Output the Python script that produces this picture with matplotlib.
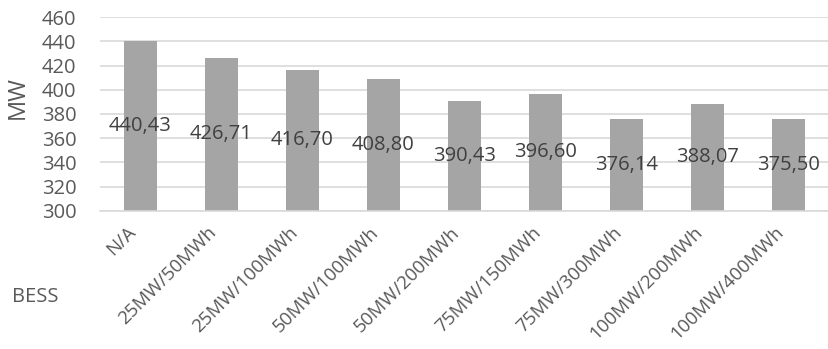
import matplotlib.pyplot as plt
import matplotlib.transforms as mtransforms

# Data
categories = ['N/A', '25MW/50MWh', '25MW/100MWh', '50MW/100MWh', '50MW/200MWh',
              '75MW/150MWh', '75MW/300MWh', '100MW/200MWh', '100MW/400MWh']
values = [440.43, 426.71, 416.70, 408.80, 390.43, 396.60, 376.14, 388.07, 375.50]
yticks = [300, 320, 340, 360, 380, 400, 420, 440, 460]

plt.rcParams['font.family'] = ['Open Sans', 'DejaVu Sans']

fig = plt.figure(figsize=(8.29, 3.49), dpi=100)
ax = fig.add_axes([100 / 829, 138.3 / 349, 729 / 829, 193.4 / 349])

x = list(range(len(categories)))
ax.bar(x, values, width=0.41, color='#A5A5A5', zorder=2)

ymin, ymax = 300, 460
ax.set_ylim(ymin, ymax)
ax.set_xlim(-0.5, len(categories) - 0.5)
ax.set_yticks(yticks)
ax.yaxis.grid(True, color='#D9D9D9', linewidth=1.2, zorder=0)
ax.set_axisbelow(True)

for s in ['top', 'right', 'left']:
    ax.spines[s].set_visible(False)
ax.spines['bottom'].set_color('#D9D9D9')
ax.spines['bottom'].set_linewidth(1.2)

ax.tick_params(axis='y', length=0, pad=17, labelsize=14.5, labelcolor='#595959')
ax.tick_params(axis='x', length=0, pad=9, labelsize=13.5, labelcolor='#595959')
ax.set_xticks(x)
ax.set_xticklabels(categories, rotation=45, ha='right', va='top', rotation_mode='anchor')
shift = mtransforms.ScaledTranslation(-14 / 100, 0, fig.dpi_scale_trans)
for lbl in ax.get_xticklabels():
    lbl.set_transform(lbl.get_transform() + shift)

# data labels centred on the visible part of each bar
for xi, v in zip(x, values):
    ax.text(xi, (ymin + v) / 2, f'{v:.2f}'.replace('.', ','), ha='center', va='center',
            fontsize=14.5, color='#404040', zorder=3)

fig.text(18 / 829, 0.722, 'MW', rotation=90, ha='center', va='center', fontsize=17, color='#595959')
fig.text(12 / 829, 0.149, 'BESS', ha='left', va='center', fontsize=14.5, color='#595959')

plt.savefig('out.png', dpi=100)
